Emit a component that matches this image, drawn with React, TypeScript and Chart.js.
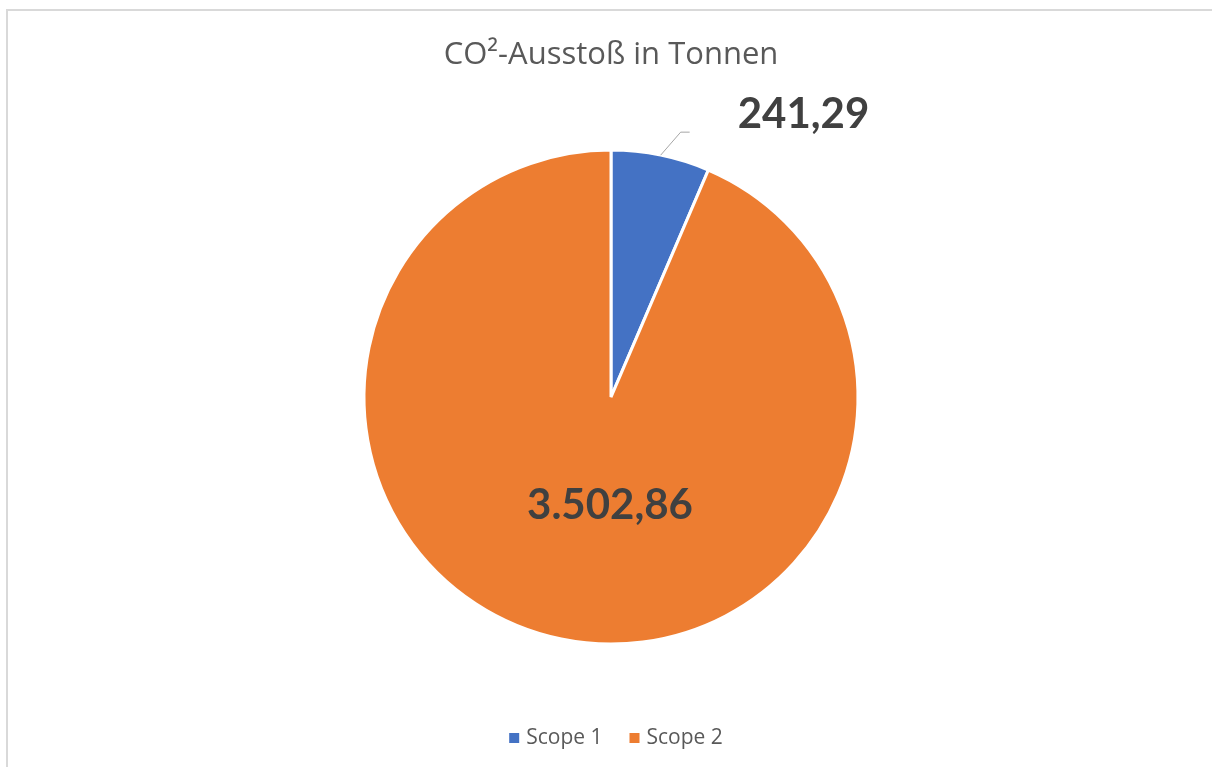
import React, { useEffect, useRef } from "react";
import { Chart, registerables } from "chart.js";

Chart.register(...registerables);

const categories = ["Scope 1", "Scope 2"];
const values = [241.29, 3502.86];
const colors = ["#4472C4", "#ED7D31"];
const titleText = "CO²-Ausstoß in Tonnen";

function formatDE(v: number): string {
  const fixed = v.toFixed(2);
  const [intPart, dec] = fixed.split(".");
  const withDots = intPart.replace(/\B(?=(\d{3})+(?!\d))/g, ".");
  return withDots + "," + dec;
}

const LABEL_FONT = "Lato, 'Open Sans', 'Noto Sans', sans-serif";
const TEXT_FONT = "'Open Sans', 'Noto Sans', sans-serif";

const overlayPlugin = {
  id: "overlay",
  afterDraw(chart: any) {
    const ctx = chart.ctx as CanvasRenderingContext2D;
    const meta = chart.getDatasetMeta(0);
    ctx.save();
    // data labels
    meta.data.forEach((arc: any, i: number) => {
      const { x, y, startAngle, endAngle, outerRadius } = arc.getProps(
        ["x", "y", "startAngle", "endAngle", "outerRadius"],
        true
      );
      const mid = (startAngle + endAngle) / 2;
      const text = formatDE(values[i]);
      ctx.font = `bold 42px ${LABEL_FONT}`;
      ctx.fillStyle = "#404040";
      ctx.textBaseline = "middle";
      if (i === 0) {
        const px = x + Math.cos(mid) * outerRadius;
        const py = y + Math.sin(mid) * outerRadius;
        ctx.strokeStyle = "#a6a6a6";
        ctx.lineWidth = 1;
        ctx.beginPath();
        ctx.moveTo(px, py);
        ctx.lineTo(px + 20, py - 23);
        ctx.lineTo(px + 29, py - 23);
        ctx.stroke();
        ctx.textAlign = "left";
        ctx.fillText(text, px + 77, py - 41);
      } else {
        ctx.textAlign = "center";
        ctx.fillText(text, x - 1, y + 0.44 * outerRadius);
      }
    });
    // legend
    ctx.font = `21px ${TEXT_FONT}`;
    ctx.textBaseline = "middle";
    ctx.textAlign = "left";
    const legendY = 738;
    const gap = 27;
    const box = 10;
    const widths = categories.map((c) => box + 7 + ctx.measureText(c).width);
    const total = widths.reduce((a, b) => a + b, 0) + gap * (categories.length - 1);
    let lx = chart.width / 2 + 10 - total / 2;
    categories.forEach((c, i) => {
      ctx.fillStyle = colors[i];
      ctx.fillRect(lx, legendY - box / 2, box, box);
      ctx.fillStyle = "#595959";
      ctx.fillText(c, lx + box + 7, legendY);
      lx += widths[i] + gap;
    });
    ctx.restore();
  },
};

export default function App() {
  const canvasRef = useRef<HTMLCanvasElement | null>(null);

  useEffect(() => {
    if (!canvasRef.current) return;
    const chart = new Chart(canvasRef.current, {
      type: "pie",
      data: {
        labels: categories,
        datasets: [
          {
            data: values,
            backgroundColor: colors,
            borderColor: "#ffffff",
            borderWidth: 3,
          },
        ],
      },
      options: {
        responsive: false,
        animation: false,
        devicePixelRatio: 1,
        radius: 247,
        layout: { padding: { left: 10, right: 0, top: 0, bottom: 123 } },
        plugins: {
          legend: { display: false },
          tooltip: { enabled: false },
          title: {
            display: true,
            text: titleText,
            color: "#595959",
            font: { family: TEXT_FONT, size: 31, weight: "normal", lineHeight: 1.2 },
            padding: { top: 37, bottom: 76 },
          },
        },
      } as any,
      plugins: [overlayPlugin],
    });
    return () => chart.destroy();
  }, []);

  return (
    <div
      style={{
        position: "fixed",
        left: 0,
        top: 0,
        width: 1212,
        height: 767,
        background: "#ffffff",
        overflow: "hidden",
      }}
    >
      <div
        style={{
          position: "absolute",
          left: 6,
          top: 9,
          width: 1220,
          height: 780,
          borderLeft: "2px solid #d9d9d9",
          borderTop: "2px solid #d9d9d9",
        }}
      />
      <canvas
        ref={canvasRef}
        width={1212}
        height={767}
        style={{ position: "absolute", left: 0, top: 0 }}
      />
    </div>
  );
}
